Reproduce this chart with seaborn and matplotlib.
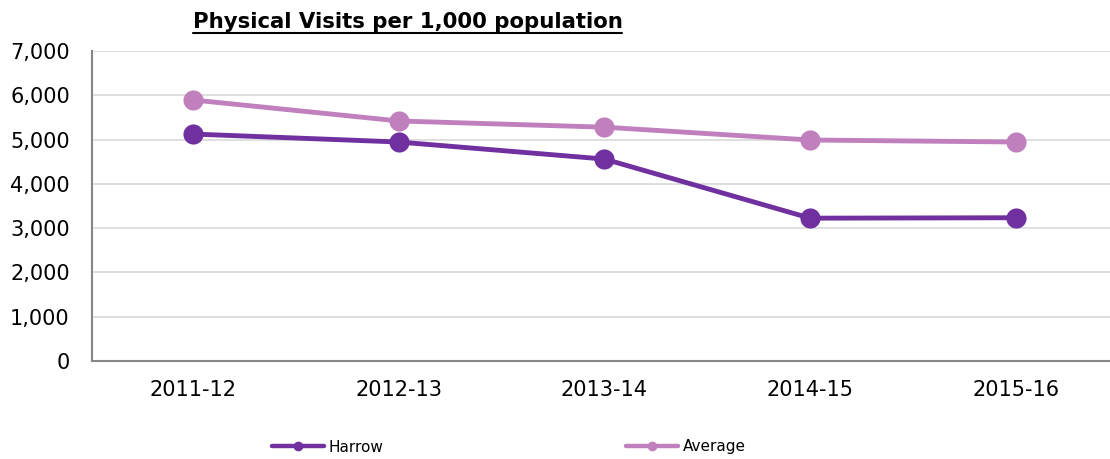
import matplotlib
matplotlib.use("Agg")
import matplotlib.pyplot as plt
import seaborn as sns
import pandas as pd
from matplotlib.ticker import FuncFormatter
from matplotlib.lines import Line2D

years = ["2011-12", "2012-13", "2013-14", "2014-15", "2015-16"]
harrow = [5125, 4945, 4560, 3225, 3235]
average = [5895, 5420, 5280, 4990, 4945]
series_names = ["Harrow", "Average"]
colors = ["#7030A0", "#C080BE"]

df = pd.DataFrame({
    "Year": years * 2,
    "Value": harrow + average,
    "Series": [series_names[0]] * len(years) + [series_names[1]] * len(years),
})

sns.set_theme(style="white")
plt.rcParams['font.family'] = ['DejaVu Sans']
plt.rcParams['text.color'] = 'black'

fig = plt.figure(figsize=(11.1, 4.59), dpi=100)
ax = fig.add_axes([92/1110, 1 - 361/459, 1 - 92/1110, 310/459])

sns.lineplot(data=df, x="Year", y="Value", hue="Series", palette=colors,
             hue_order=series_names, marker="o", markersize=14.5, linewidth=3.5,
             markeredgewidth=0, sort=False, ax=ax, legend=False)

ax.set_ylim(0, 7000)
ax.set_xlim(-0.49, 4.457)
ax.set_yticks(range(0, 7001, 1000))
ax.yaxis.set_major_formatter(FuncFormatter(lambda v, p: f"{int(v):,}"))
ax.grid(axis="y", color="#D9D9D9", linewidth=1.2)
ax.set_axisbelow(True)
for s in ["top", "right"]:
    ax.spines[s].set_visible(False)
for s in ["left", "bottom"]:
    ax.spines[s].set_color("#868686")
    ax.spines[s].set_linewidth(1.5)
ax.tick_params(axis="both", length=0, labelsize=15, colors="#000000")
ax.tick_params(axis="y", pad=16)
ax.tick_params(axis="x", pad=14)
ax.set_xlabel("")
ax.set_ylabel("")

fig.text(193/1110, 1 - 22/459, "Physical Visits per 1,000 population", fontsize=15.3,
         fontweight="bold", ha="left", va="center", color="black")
fig.add_artist(Line2D([193/1110, 622/1110], [1 - 33/459, 1 - 33/459],
                      color="black", linewidth=1.5, transform=fig.transFigure))

handles = [Line2D([0], [0], color=c, linewidth=3.2, marker="o", markersize=7,
                  markeredgewidth=0) for c in colors]
leg = fig.legend(handles, series_names, loc="center left",
                 bbox_to_anchor=(272/1110, 1 - 447/459),
                 ncol=2, frameon=False, fontsize=11, handlelength=3.4, handletextpad=0.3,
                 columnspacing=15.9, borderaxespad=0, borderpad=0)
for t in leg.get_texts():
    t.set_color("black")

fig.savefig("out.png", dpi=100)
